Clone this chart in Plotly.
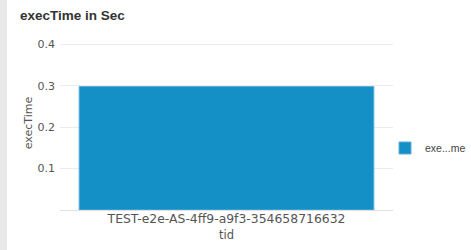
import plotly.graph_objects as go

categories = ["TEST-e2e-AS-4ff9-a9f3-354658716632"]
exec_time = [0.298]
series_name = "exe...me"
y_ticks = [0.1, 0.2, 0.3, 0.4]
y_tick_text = ["0.1", "0.2", "0.3", "0.4"]

L, R, T, B = 60, 78, 36, 40
W, H = 471, 250
pw, ph = W - L - R, H - T - B

fig = go.Figure()
fig.add_trace(go.Bar(
    x=categories, y=exec_time, name=series_name,
    marker=dict(color="#1490c6", line=dict(color="#5ab0dc", width=1)),
    showlegend=True,
))
fig.update_layout(
    width=W, height=H,
    margin=dict(l=L, r=R, t=T, b=B, autoexpand=False),
    paper_bgcolor="white", plot_bgcolor="white",
    font=dict(family="DejaVu Sans, sans-serif", size=11, color="#555"),
    title=dict(text="<b>execTime in Sec</b>", x=20 / W, xanchor="left", xref="container",
               y=1 - 15 / H, yanchor="middle", yref="container",
               font=dict(family="Liberation Sans, Arial, sans-serif", size=13.5, color="#333")),
    bargap=0.115,
    showlegend=True,
    legend=dict(xref="container", yref="container", x=385 / W, xanchor="left",
                y=1 - 148 / H, yanchor="middle",
                font=dict(family="Liberation Sans, Arial, sans-serif", size=10.5, color="#444"),
                bgcolor="rgba(0,0,0,0)"),
    xaxis=dict(showgrid=False, showline=False, ticks="", automargin=False,
               title=dict(text="tid", standoff=5, font=dict(size=11.5)),
               tickfont=dict(size=12.4)),
    yaxis=dict(range=[0, 0.42], tickvals=y_ticks, ticktext=y_tick_text, automargin=False,
               ticklabelstandoff=4,
               gridcolor="#ebebeb", zeroline=True, zerolinecolor="#e0e0e0", zerolinewidth=1,
               title=dict(text="execTime", standoff=2, font=dict(size=11)), tickfont=dict(size=11)),
    shapes=[dict(type="rect", xref="paper", yref="paper",
                 x0=(0 - L) / pw, x1=(7 - L) / pw, y0=-B / ph - 0.01, y1=1 + T / ph + 0.01,
                 fillcolor="#e8e8e8", line=dict(width=0), layer="below")],
)
fig.write_html("out.html", config={"displayModeBar": False},
               post_script="document.body.style.margin='0px';")
